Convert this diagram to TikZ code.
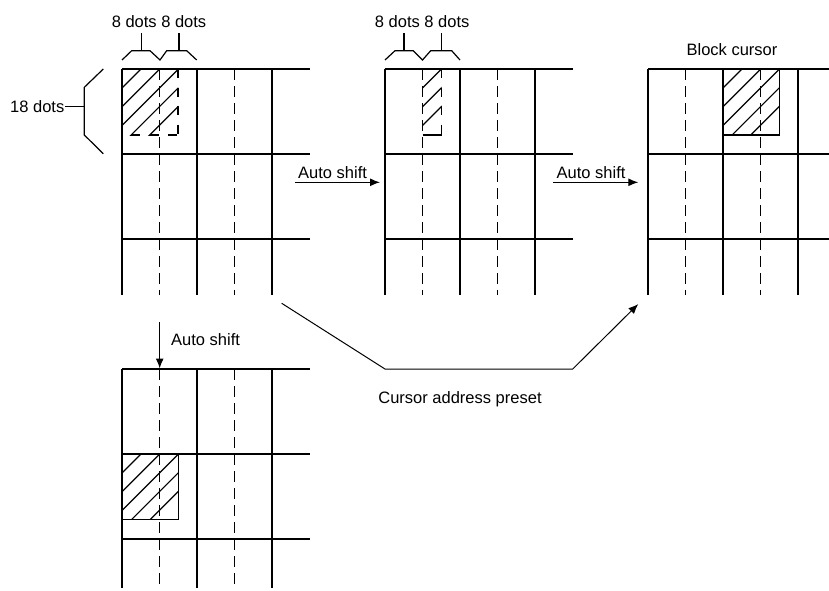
\documentclass[tikz,border=0pt]{standalone}
\usepackage{fontspec}
\setmainfont{Liberation Sans}
\usetikzlibrary{arrows.meta}
\tikzset{
  gridline/.style={line width=1.4pt},
  dashline/.style={line width=1.4pt, dash pattern=on 11pt off 6pt},
  edgedash/.style={line width=1.4pt, dash pattern=on 9pt off 9.5pt},
  hatchline/.style={line width=1.2pt},
  lbl/.style={font=\fontsize{16.5}{18}\selectfont, inner sep=0pt},
  arr/.style={line width=1.2pt, -{Latex[length=10pt,width=8pt]}},
  thinarr/.style={line width=1pt, -{Latex[length=10pt,width=8pt]}},
  bracket/.style={line width=1.2pt},
}
\newcommand\gridat[4]{%
  \foreach \dy in {0,85,170} \draw[gridline] (#1,#2+\dy) -- (#3,#2+\dy);
  \foreach \dx in {0,75,150} \draw[gridline] (#1+\dx,#2) -- (#1+\dx,#4);
  \foreach \dx in {37.5,112.5} \draw[dashline] (#1+\dx,#2) -- (#1+\dx,#4);
}
\newcommand\hatchin[5]{%
  \begin{scope}
    \clip (#1,#2) rectangle (#3,#4);
    \foreach \k in {0,...,#5} {
      \pgfmathsetmacro\hs{#1+#2+19+18.7*\k}
      \draw[hatchline] (\hs-#4-5,#4+5) -- (\hs-#2+5,#2-5);
    }
  \end{scope}}
\begin{document}
\begin{tikzpicture}[x=1pt,y=-1pt]
\useasboundingbox (0,0) rectangle (829,590);

% grids
\gridat{122}{69}{310}{295}
\gridat{385}{69}{573}{295}
\gridat{648}{69}{829}{295}
\gridat{122}{369}{310}{588}

% cursors
\hatchin{122}{69}{178}{135}{4}
\draw[edgedash] (178,69) -- (178,135);
\draw[edgedash, dash phase=-9pt] (122,135) -- (178,135);

\hatchin{422.5}{69}{441.7}{135}{2}
\draw[edgedash] (441.7,69) -- (441.7,135);
\draw[gridline] (422.5,135) -- (441.7,135);

\hatchin{723}{69}{779.3}{135}{4}
\draw[gridline] (723,135) -- (779.3,135) -- (779.3,69);

\hatchin{122}{454}{178.3}{519.3}{4}
\draw[gridline] (122,519.3) -- (178.3,519.3) -- (178.3,454);

% 18 dots bracket
\draw[bracket] (103.3,69) -- (84.3,87.3) -- (84.3,135) -- (103.3,153.7);
\coordinate (b18) at (84.3,106.7);
\node[lbl, anchor=east] (t18) at (64.5,106.7) {18 dots};
\draw[bracket] (b18) -- (t18.east);

% 8 dots brackets, grid 1
\draw[bracket] (122,60) -- (131.7,50.7) -- (150,50.7) -- (160,60)
               -- (166.7,50.7) -- (186.7,50.7) -- (196.7,60);
\draw[bracket] (141.7,50.7) -- (141.7,33);
\draw[bracket] (179,50.7) -- (179,33);
\node[lbl, anchor=base] (t8a) at (159,27) {8 dots 8 dots};

% 8 dots brackets, grid 2
\draw[bracket] (385,60) -- (395,50.7) -- (413.3,50.7) -- (422.5,60)
               -- (430.7,50.7) -- (451.7,50.7) -- (460,60);
\draw[bracket] (404,50.7) -- (404,33);
\draw[bracket] (441.7,50.7) -- (441.7,33);
\node[lbl, anchor=base] (t8b) at (422.2,27) {8 dots 8 dots};

% block cursor label
\node[lbl, anchor=base] (tbc) at (732,55) {Block cursor};

% auto shift arrows
\coordinate (a1s) at (295,182.3);
\coordinate (a1e) at (380,182.3);
\draw[arr] (a1s) -- (a1e);
\node[lbl, anchor=base west] (ta1) at (298,178) {Auto shift};

\coordinate (a2s) at (553.3,182.3);
\coordinate (a2e) at (638.3,182.3);
\draw[arr] (a2s) -- (a2e);
\node[lbl, anchor=base west] (ta2) at (556.5,178) {Auto shift};

\coordinate (a3s) at (159.7,322.3);
\coordinate (a3e) at (159.7,368.5);
\draw[arr] (a3s) -- (a3e);
\node[lbl, anchor=base west] (ta3) at (171,345.5) {Auto shift};

% cursor address preset
\coordinate (cs) at (281.7,303.3);
\coordinate (c1) at (385,369);
\coordinate (c2) at (572.7,369);
\coordinate (ce) at (638.3,304);
\draw[thinarr] (cs) -- (c1) -- (c2) -- (ce);
\node[lbl, anchor=base] (tcp) at (460,403.5) {Cursor address preset};
\end{tikzpicture}
\end{document}
